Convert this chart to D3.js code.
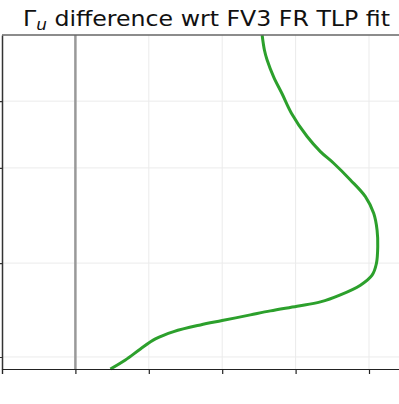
<!DOCTYPE html>
<html>
<head>
<meta charset="utf-8">
<script src="https://cdn.jsdelivr.net/npm/d3@7"></script>
<style>
  body { margin: 0; background: #fff; }
  svg { display: block; }
</style>
</head>
<body>
<svg width="399" height="404"></svg>
<script>
// difference profile (x = difference, y = vertical level in arbitrary units 0..100)
const diffValues = [2.544, 2.575, 2.612, 2.702, 2.816, 2.943, 3.157, 3.338, 3.519, 3.747,
  3.951, 4.064, 4.110, 4.119, 4.101, 4.042, 3.883, 3.610, 3.338, 3.020,
  2.657, 2.384, 1.999, 1.703, 1.339, 1.090, 0.886, 0.681, 0.477];
const levels = [100.0, 95.5, 92.5, 87.4, 82.4, 76.6, 69.6, 65.1, 61.6, 56.6,
  51.6, 46.6, 41.6, 36.6, 31.6, 28.1, 25.1, 22.2, 20.1, 18.8,
  17.4, 16.2, 14.5, 13.2, 11.2, 9.0, 6.0, 2.7, 0.0];
const xTicks = [-1, 0, 1, 2, 3, 4];
const yTicks = [3.6, 31.7, 60.2, 80.2];

const svg = d3.select("svg");
const margin = { top: 35, left: 2, bottom: 369 };

const x = d3.scaleLinear().domain([-1, 4.7]).range([margin.left, margin.left + 5.7 * 73.4]);
const y = d3.scaleLinear().domain([0, 100]).range([margin.bottom, margin.top]);

// grid
svg.append("g").selectAll("line.vg")
  .data(xTicks.slice(1))
  .enter().append("line")
  .attr("x1", d => x(d)).attr("x2", d => x(d))
  .attr("y1", margin.top).attr("y2", margin.bottom)
  .attr("stroke", "#ebebeb").attr("stroke-width", 1);

svg.append("g").selectAll("line.hg")
  .data(yTicks)
  .enter().append("line")
  .attr("x1", margin.left).attr("x2", 399)
  .attr("y1", d => y(d)).attr("y2", d => y(d))
  .attr("stroke", "#ebebeb").attr("stroke-width", 1);

// zero line
svg.append("line")
  .attr("x1", x(0)).attr("x2", x(0))
  .attr("y1", margin.top).attr("y2", margin.bottom)
  .attr("stroke", "#999").attr("stroke-width", 2.5);

// curve
const line = d3.line()
  .x((d, i) => x(d))
  .y((d, i) => y(levels[i]))
  .curve(d3.curveCatmullRom);

svg.append("path")
  .datum(diffValues)
  .attr("d", line)
  .attr("fill", "none")
  .attr("stroke", "#2ca02c")
  .attr("stroke-width", 3);

// axes
svg.append("g")
  .attr("transform", `translate(0,${margin.bottom})`)
  .call(d3.axisBottom(x).tickValues(xTicks).tickSize(5).tickFormat(""))
  .call(g => g.select(".domain").attr("stroke", "#222").attr("stroke-width", 1.2))
  .call(g => g.selectAll(".tick line").attr("stroke", "#222").attr("stroke-width", 1.2));

svg.append("g")
  .attr("transform", `translate(${margin.left},0)`)
  .call(d3.axisLeft(y).tickValues(yTicks).tickSize(4).tickFormat("").tickSizeOuter(0))
  .call(g => g.select(".domain").attr("stroke", "#333").attr("stroke-width", 1.5))
  .call(g => g.selectAll(".tick line").attr("stroke", "#333").attr("stroke-width", 1.2));

// top spine
svg.append("line")
  .attr("x1", margin.left).attr("x2", 399)
  .attr("y1", margin.top).attr("y2", margin.top)
  .attr("stroke", "#666").attr("stroke-width", 1.5);

// title
const title = svg.append("text")
  .attr("x", 23).attr("y", 26)
  .attr("font-family", "DejaVu Sans")
  .attr("font-size", 21)
  .attr("textLength", 367)
  .attr("lengthAdjust", "spacingAndGlyphs")
  .attr("fill", "#111");
title.append("tspan").text("Γ");
title.append("tspan").attr("font-style", "italic").attr("font-size", 15).attr("dy", 4).text("u");
title.append("tspan").attr("dy", -4).text(" difference wrt FV3 FR TLP fit");
</script>
</body>
</html>
